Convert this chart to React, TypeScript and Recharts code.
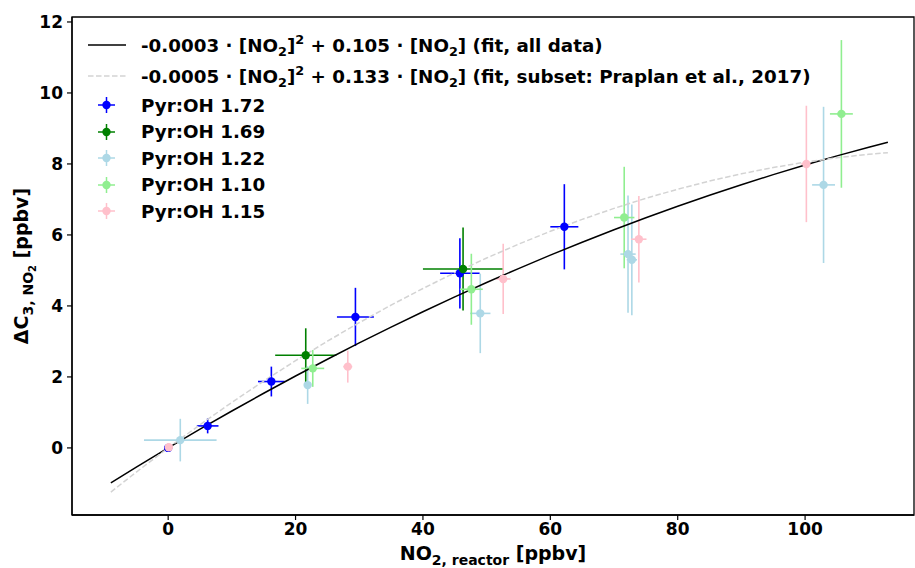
import React from "react";
import {
  ScatterChart,
  Scatter,
  XAxis,
  YAxis,
  ErrorBar,
  Legend,
  Label,
  ReferenceArea,
} from "recharts";

// ---- data ----
const xTicks = [0, 20, 40, 60, 80, 100];
const yTicks = [0, 2, 4, 6, 8, 10, 12];
const xDomain: [number, number] = [-15.1, 117.1];
const yDomain: [number, number] = [-1.89, 12.14];

const blue172 = [
  { x: 0.0, y: 0.0, ex: 0.3, ey: 0.05 },
  { x: 6.2, y: 0.62, ex: 1.7, ey: 0.21 },
  { x: 16.2, y: 1.87, ex: 2.1, ey: 0.42 },
  { x: 29.4, y: 3.69, ex: 2.9, ey: 0.82 },
  { x: 45.8, y: 4.92, ex: 3.1, ey: 0.99 },
  { x: 62.2, y: 6.23, ex: 2.2, ey: 1.2 },
];
const green169 = [
  { x: 21.6, y: 2.61, ex: 4.8, ey: 0.76 },
  { x: 46.3, y: 5.04, ex: 6.3, ey: 1.17 },
];
const lightblue122 = [
  { x: 1.9, y: 0.22, ex: 5.7, ey: 0.6 },
  { x: 21.9, y: 1.77, ex: 0.5, ey: 0.53 },
  { x: 49.0, y: 3.79, ex: 1.6, ey: 1.12 },
  { x: 72.2, y: 5.46, ex: 1.2, ey: 1.65 },
  { x: 72.8, y: 5.3, ex: 0.8, ey: 1.56 },
  { x: 102.9, y: 7.41, ex: 1.8, ey: 2.2 },
];
const lightgreen110 = [
  { x: 22.7, y: 2.24, ex: 1.8, ey: 0.52 },
  { x: 47.6, y: 4.47, ex: 1.8, ey: 1.0 },
  { x: 71.6, y: 6.49, ex: 1.6, ey: 1.43 },
  { x: 105.7, y: 9.41, ex: 1.8, ey: 2.08 },
];
const pink115 = [
  { x: 0.1, y: 0.02, ex: 0.3, ey: 0.05 },
  { x: 28.2, y: 2.29, ex: 0.7, ey: 0.45 },
  { x: 52.6, y: 4.76, ex: 1.15, ey: 0.99 },
  { x: 73.9, y: 5.88, ex: 1.2, ey: 1.22 },
  { x: 100.2, y: 8.0, ex: 0.8, ey: 1.64 },
];

// fit curves: y = a*x^2 + b*x, sampled at these x values
const fitX = [-9, -5, 0, 5, 10, 15, 20, 25, 30, 35, 40, 45, 50, 55, 60, 65, 70, 75, 80, 85, 90, 95, 100, 105, 110, 113];
const fitAllCoef = { a: -0.00027, b: 0.1067 };
const fitSubsetCoef = { a: -0.00053, b: 0.1335 };
const fitAll = fitX.map((x) => ({ x, y: fitAllCoef.a * x * x + fitAllCoef.b * x }));
const fitSubset = fitX.map((x) => ({ x, y: fitSubsetCoef.a * x * x + fitSubsetCoef.b * x }));

const seriesLabels = ["Pyr:OH 1.72", "Pyr:OH 1.69", "Pyr:OH 1.22", "Pyr:OH 1.10", "Pyr:OH 1.15"];
const seriesColors = ["#0000ff", "#008000", "#add8e6", "#90ee90", "#ffc0cb"];
const seriesData = [blue172, green169, lightblue122, lightgreen110, pink115];

const FONT = "'DejaVu Sans', sans-serif";

const Dot = (props: any) => {
  const { cx, cy, fill } = props;
  if (cx == null || cy == null) return <g />;
  return <circle cx={cx} cy={cy} r={4.2} fill={fill} />;
};
const NoDot = () => <g />;

const LegendContent = () => {
  const textStyle: React.CSSProperties = {
    fontFamily: FONT,
    fontWeight: "bold",
    fontSize: 18.3,
    color: "#000",
    whiteSpace: "nowrap",
  };
  const subStyle: React.CSSProperties = { fontSize: 12.8, verticalAlign: -4 };
  const supStyle: React.CSSProperties = { fontSize: 12.8, verticalAlign: 8 };
  return (
    <div style={{ position: "relative", width: 760, height: 200 }}>
      <div style={{ position: "absolute", left: 0, top: 45 - 17 - 17, height: 34, display: "flex", alignItems: "center" }}>
        <svg width={38} height={10} style={{ marginRight: 15 }}>
          <line x1={0} y1={5} x2={38} y2={5} stroke="#000" strokeWidth={1.5} />
        </svg>
        <span style={textStyle}>
          -0.0003 · [NO<span style={subStyle}>2</span>]<span style={supStyle}>2</span> + 0.105 · [NO
          <span style={subStyle}>2</span>] (fit, all data)
        </span>
      </div>
      <div style={{ position: "absolute", left: 0, top: 76 - 17 - 17, height: 34, display: "flex", alignItems: "center" }}>
        <svg width={38} height={10} style={{ marginRight: 15 }}>
          <line x1={0} y1={5} x2={38} y2={5} stroke="#d3d3d3" strokeWidth={1.5} strokeDasharray="5.5 2.5" />
        </svg>
        <span style={textStyle}>
          -0.0005 · [NO<span style={subStyle}>2</span>]<span style={supStyle}>2</span> + 0.133 · [NO
          <span style={subStyle}>2</span>] (fit, subset: Praplan et al., 2017)
        </span>
      </div>
      {seriesLabels.map((lab, i) => (
        <div
          key={lab}
          style={{
            position: "absolute",
            left: 0,
            top: 105.3 + i * 26.5 - 17 - 13,
            height: 26,
            display: "flex",
            alignItems: "center",
          }}
        >
          <svg width={38} height={20} style={{ marginRight: 15 }}>
            <line x1={10} y1={10} x2={27} y2={10} stroke={seriesColors[i]} strokeWidth={1.5} />
            <line x1={18.5} y1={2} x2={18.5} y2={18} stroke={seriesColors[i]} strokeWidth={1.5} />
            <circle cx={18.5} cy={10} r={4.2} fill={seriesColors[i]} />
          </svg>
          <span style={textStyle}>{lab}</span>
        </div>
      ))}
    </div>
  );
};

const XLabel = () => (
  <text x={493} y={560} textAnchor="middle" fontFamily={FONT} fontWeight="bold" fontSize={19} fill="#000">
    NO
    <tspan fontSize={14} dy={5}>2, reactor</tspan>
    <tspan dy={-5}> [ppbv]</tspan>
  </text>
);

const YLabel = () => (
  <text
    x={0}
    y={0}
    transform="translate(28,266) rotate(-90)"
    textAnchor="middle"
    fontFamily={FONT}
    fontWeight="bold"
    fontSize={19}
    fill="#000"
  >
    ΔC
    <tspan fontSize={14} dy={5}>3, NO</tspan>
    <tspan fontSize={10} dy={3}>2</tspan>
    <tspan dy={-8}> [ppbv]</tspan>
  </text>
);

const tickStyle = { fontSize: 17, fontWeight: "bold", fill: "#000", fontFamily: FONT };

export default function App() {
  return (
    <div style={{ position: "absolute", left: 0, top: 0, width: 915, height: 568, background: "#fff" }}>
      <ScatterChart width={915} height={568} margin={{ top: 17, right: 1, bottom: 0, left: 0 }}>
        <XAxis
          xAxisId="b"
          type="number"
          dataKey="x"
          domain={xDomain}
          ticks={xTicks}
          allowDataOverflow
          height={53}
          tick={tickStyle}
          tickSize={5}
          tickMargin={3}
          axisLine={{ stroke: "#000", strokeWidth: 1.3 }}
          tickLine={{ stroke: "#000", strokeWidth: 1.2 }}
        >
          <Label content={<XLabel />} />
        </XAxis>
        <YAxis
          yAxisId="l"
          type="number"
          dataKey="y"
          domain={yDomain}
          ticks={yTicks}
          allowDataOverflow
          width={72}
          tick={tickStyle}
          tickSize={5}
          tickMargin={4}
          axisLine={{ stroke: "#000", strokeWidth: 1.3 }}
          tickLine={{ stroke: "#000", strokeWidth: 1.2 }}
        >
          <Label content={<YLabel />} />
        </YAxis>
        <ReferenceArea
          xAxisId="b"
          yAxisId="l"
          x1={xDomain[0]}
          x2={xDomain[1]}
          y1={yDomain[0]}
          y2={yDomain[1]}
          fill="none"
          fillOpacity={0}
          stroke="#000"
          strokeWidth={1.3}
          ifOverflow="visible"
        />
        <Scatter
          xAxisId="b"
          yAxisId="l"
          data={fitAll}
          line={{ stroke: "#000", strokeWidth: 1.5 }}
          shape={NoDot}
          fill="#000"
          legendType="none"
          isAnimationActive={false}
        />
        <Scatter
          xAxisId="b"
          yAxisId="l"
          data={fitSubset}
          line={{ stroke: "#d3d3d3", strokeWidth: 1.5, strokeDasharray: "5.5 2.5" }}
          shape={NoDot}
          fill="#d3d3d3"
          legendType="none"
          isAnimationActive={false}
        />
        {seriesData.map((d, i) => (
          <Scatter
            key={seriesLabels[i]}
            name={seriesLabels[i]}
            xAxisId="b"
            yAxisId="l"
            data={d}
            fill={seriesColors[i]}
            shape={Dot}
            isAnimationActive={false}
          >
            <ErrorBar dataKey="ex" direction="x" width={0} stroke={seriesColors[i]} strokeWidth={1.6} />
            <ErrorBar dataKey="ey" direction="y" width={0} stroke={seriesColors[i]} strokeWidth={1.6} />
          </Scatter>
        ))}
        <Legend
          layout="horizontal"
          verticalAlign="middle"
          align="center"
          content={<LegendContent />}
          wrapperStyle={{ position: "absolute", left: 88, top: 17, width: 760, height: 200 }}
        />
      </ScatterChart>
    </div>
  );
}
